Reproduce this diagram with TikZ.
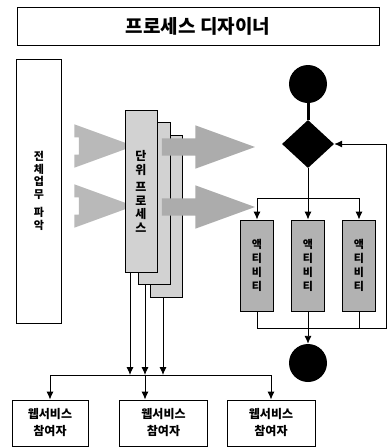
\documentclass[tikz,border=0pt]{standalone}
\usepackage{fontspec}
\setmainfont{Noto Sans CJK KR}
\usetikzlibrary{arrows.meta,positioning,calc,shapes.geometric,shapes.arrows}

\begin{document}
\begin{tikzpicture}[
  x=1pt,y=-1pt,>={Latex[length=8pt,width=7pt]},
  flow/.style={->,line width=0.9pt},
  link/.style={line width=0.9pt},
  plainbox/.style={draw,line width=0.9pt,inner sep=0pt,align=center},
  stackbox/.style={plainbox,fill=gray!35,minimum width=32,minimum height=162,
    font=\bfseries\fontsize{12}{13.5}\selectfont},
  actbox/.style={plainbox,fill=gray!60,minimum width=33,minimum height=91,
    font=\bfseries\fontsize{11}{14}\selectfont},
  partbox/.style={plainbox,minimum width=88,minimum height=46,
    font=\bfseries\fontsize{12}{17}\selectfont},
  bigarrow/.style={single arrow,fill=gray!55,inner xsep=0pt,inner ysep=8.5pt,
    minimum width=43,single arrow head extend=13,single arrow tip angle=40},
  dot/.style={circle,fill=black,minimum size=38,inner sep=0pt},
  decision/.style={diamond,fill=black,minimum width=52,minimum height=48,
    inner sep=0pt}
]
  \useasboundingbox (0,0) rectangle (388,448);
  \node[plainbox,minimum width=362,minimum height=38,
    font=\bfseries\fontsize{19}{22}\selectfont] (title) at (198,26) {프로세스 디자이너};
  \node[plainbox,minimum width=45,minimum height=264,
    font=\bfseries\fontsize{11}{12.5}\selectfont] (whole) at (39,191)
    {전\\체\\업\\무\\[6pt]파\\악};
  \node[bigarrow,minimum height=55] (inA) at (94.5,146) {};
  \node[bigarrow,minimum height=55] (inB) at (94.5,206) {};
  \node[stackbox] (unitC) at (166.5,216) {};
  \node[stackbox] (unitB) at (154,203.5) {};
  \node[bigarrow,minimum height=93,fill=gray!65] (outA) at (196.5,147) {};
  \node[bigarrow,minimum height=93,fill=gray!65] (outB) at (196.5,207) {};
  \node[stackbox] (unitA) at (141,191.5) {단\\위\\[4pt]프\\로\\세\\스};
  % activity flow
  \node[dot] (start) at (308,84) {};
  \node[decision] (choice) at (308,144) {};
  \coordinate (fork) at (308,198);
  \node[actbox] (act1) at (257,265.5) {액\\티\\비\\티};
  \node[actbox] (act2) at (308,265.5) {액\\티\\비\\티};
  \node[actbox] (act3) at (359,265.5) {액\\티\\비\\티};
  \coordinate (merge) at (308,328);
  \coordinate (back) at (386,328);
  \node[dot] (stop) at (308,363) {};
  \draw[line width=3pt] (start) -- (choice);
  \draw[link] (choice) -- (fork);
  \draw[flow] (fork) -| (act1);
  \draw[flow] (fork) -- (act2);
  \draw[flow] (fork) -| (act3);
  \draw[link] (act1) |- (merge);
  \draw[link] (act2) -- (merge);
  \draw[link] (act3) |- (merge);
  \draw[flow] (merge) -- (back) |- (choice);
  \draw[flow] (merge) -- (stop);
  % participants
  \node[partbox,minimum width=76] (part1) at (50,423) {웹서비스\\참여자};
  \node[partbox] (part2) at (163.5,423) {웹서비스\\참여자};
  \node[partbox] (part3) at (271,423) {웹서비스\\참여자};
  \coordinate (j1) at (130,375);
  \coordinate (j2) at (145,375);
  \coordinate (j3) at (163,375);
  \draw[flow] (unitA.south -| j1) -- (j1);
  \draw[flow] (unitB.south -| j2) -- (j2);
  \draw[flow] (unitC.south -| j3) -- (j3);
  \draw[flow] (j2) -| (part1);
  \draw[flow] (j2) -| (part3);
  \draw[flow] (j2) -- (j2 |- part2.north);
\end{tikzpicture}
\end{document}
